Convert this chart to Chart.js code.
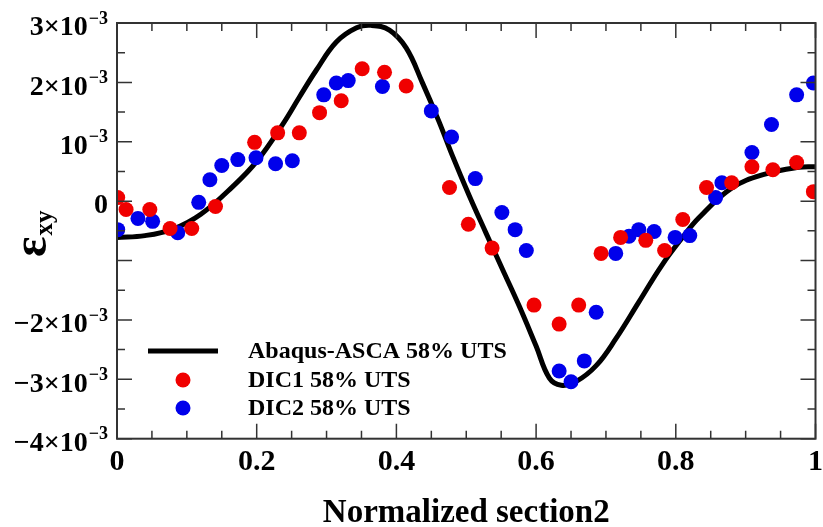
<!DOCTYPE html>
<html>
<head>
<meta charset="utf-8">
<script src="https://cdn.jsdelivr.net/npm/chart.js@4.4.0/dist/chart.umd.min.js"></script>
<style>
html, body { margin: 0; padding: 0; background: #fff; }
#wrap { width: 823px; height: 527px; }
</style>
</head>
<body>
<div id="wrap"><canvas id="chart"></canvas></div>
<script>
// strain values are in units of 1e-3 (axis labels carry the x10^-3)
const femX = [0, 0.04, 0.08, 0.12, 0.166, 0.2, 0.237, 0.261, 0.285, 0.314, 0.343, 0.364, 0.39, 0.414, 0.437, 0.461, 0.48, 0.504, 0.528, 0.552, 0.576, 0.6, 0.619, 0.636, 0.657, 0.686, 0.714, 0.747, 0.78, 0.809, 0.833, 0.88, 0.929, 0.976, 1];
const femY = [-0.61, -0.58, -0.47, -0.22, 0.25, 0.67, 1.29, 1.75, 2.2, 2.68, 2.92, 2.96, 2.88, 2.58, 2.0, 1.34, 0.77, 0.1, -0.53, -1.15, -1.77, -2.44, -2.98, -3.1, -3.04, -2.77, -2.32, -1.7, -1.08, -0.62, -0.28, 0.22, 0.46, 0.57, 0.58];

const dic1X = [0.001, 0.013, 0.047, 0.076, 0.107, 0.141, 0.197, 0.23, 0.261, 0.29, 0.321, 0.351, 0.383, 0.414, 0.476, 0.503, 0.537, 0.597, 0.633, 0.661, 0.693, 0.721, 0.757, 0.784, 0.81, 0.844, 0.88, 0.909, 0.939, 0.973, 0.997];
const dic1Y = [0.06, -0.14, -0.14, -0.46, -0.46, -0.09, 0.99, 1.15, 1.15, 1.49, 1.69, 2.23, 2.17, 1.94, 0.23, -0.39, -0.79, -1.75, -2.07, -1.75, -0.88, -0.61, -0.66, -0.83, -0.31, 0.23, 0.31, 0.58, 0.53, 0.65, 0.16];

const dic2X = [0.001, 0.03, 0.051, 0.087, 0.117, 0.133, 0.15, 0.173, 0.199, 0.227, 0.251, 0.296, 0.314, 0.331, 0.38, 0.45, 0.479, 0.513, 0.551, 0.57, 0.586, 0.633, 0.65, 0.669, 0.686, 0.714, 0.733, 0.747, 0.769, 0.799, 0.82, 0.857, 0.866, 0.909, 0.937, 0.973, 0.997];
const dic2Y = [-0.48, -0.29, -0.34, -0.53, -0.02, 0.36, 0.6, 0.7, 0.73, 0.63, 0.68, 1.79, 1.99, 2.03, 1.93, 1.52, 1.08, 0.38, -0.19, -0.48, -0.83, -2.86, -3.04, -2.69, -1.87, -0.88, -0.59, -0.48, -0.51, -0.61, -0.58, 0.06, 0.31, 0.82, 1.29, 1.79, 1.99];

const seriesNames = ['Abaqus-ASCA 58% UTS', 'DIC1 58% UTS', 'DIC2 58% UTS'];
const seriesColors = ['#000000', 'rgb(240,0,0)', 'rgb(0,0,235)'];

const yTickValues = [3, 2, 1, 0, -1, -2, -3, -4];
const yTickBase = ['3×10', '2×10', '10', '0', '', '−2×10', '−3×10', '−4×10'];
const yTickExp = ['−3', '−3', '−3', '', '', '−3', '−3', '−3'];
const xTitle = 'Normalized section2';

const serif = '"Liberation Serif", "Times New Roman", serif';
Chart.defaults.font.family = serif;
Chart.defaults.color = '#000';

function toPoints(xs, ys) {
    return xs.map((x, i) => ({ x: x, y: ys[i] }));
}

// frame, inside ticks, y labels, y title and legend
const decorations = {
    id: 'decorations',
    afterDraw: function(chart) {
        const ctx = chart.ctx;
        const area = chart.chartArea;
        const xs = chart.scales.x;
        const ys = chart.scales.y;
        ctx.save();

        // ticks
        ctx.strokeStyle = '#333';
        ctx.lineWidth = 1.5;
        ctx.beginPath();
        for (let i = 0; i <= 20; i++) {
            const v = i * 0.05;
            const px = xs.getPixelForValue(v);
            const len = (i % 4 === 0) ? 15 : 8;
            ctx.moveTo(px, area.bottom); ctx.lineTo(px, area.bottom - len);
            ctx.moveTo(px, area.top); ctx.lineTo(px, area.top + len);
        }
        for (let i = 0; i <= 14; i++) {
            const v = -4 + i * 0.5;
            const py = ys.getPixelForValue(v);
            const len = (i % 2 === 0) ? 15 : 8;
            ctx.moveTo(area.left, py); ctx.lineTo(area.left + len, py);
            ctx.moveTo(area.right, py); ctx.lineTo(area.right - len, py);
        }
        ctx.stroke();

        // frame
        ctx.lineWidth = 2;
        ctx.strokeRect(area.left, area.top, area.right - area.left, area.bottom - area.top);

        // y tick labels with superscripts
        ctx.fillStyle = '#000';
        ctx.textBaseline = 'middle';
        ctx.textAlign = 'right';
        const labelRight = area.left - 9;
        yTickValues.forEach((v, i) => {
            const py = ys.getPixelForValue(v) + 5;
            let right = labelRight;
            if (yTickExp[i]) {
                ctx.font = 'bold 18px ' + serif;
                ctx.fillText(yTickExp[i], right, py - 9);
                right -= ctx.measureText(yTickExp[i]).width + 1;
            }
            ctx.font = 'bold 28px ' + serif;
            ctx.fillText(yTickBase[i], right, py);
        });

        // y title: epsilon with subscript xy, rotated
        ctx.save();
        ctx.translate(46, 257);
        ctx.rotate(-Math.PI / 2);
        ctx.textAlign = 'left';
        ctx.textBaseline = 'alphabetic';
        ctx.font = 'bold 48px ' + serif;
        ctx.fillText('ε', 0, 0);
        const ew = ctx.measureText('ε').width;
        ctx.font = 'bold 25px ' + serif;
        ctx.fillText('xy', ew + 1, 6);
        ctx.restore();

        // legend
        const lx = area.left + 31;
        const rows = [area.top + 328, area.top + 357, area.top + 385];
        ctx.textAlign = 'left';
        ctx.textBaseline = 'middle';
        ctx.font = 'bold 24px ' + serif;
        chart.data.datasets.forEach((ds, i) => {
            const y = rows[i];
            if (ds.showLine) {
                ctx.strokeStyle = ds.borderColor;
                ctx.lineWidth = ds.borderWidth;
                ctx.beginPath();
                ctx.moveTo(lx, y);
                ctx.lineTo(lx + 70, y);
                ctx.stroke();
            } else {
                ctx.fillStyle = ds.backgroundColor;
                ctx.beginPath();
                ctx.arc(lx + 35, y, ds.pointRadius, 0, Math.PI * 2);
                ctx.fill();
            }
            ctx.fillStyle = '#000';
            ctx.fillText(ds.label, lx + 100, y + 1);
        });
        ctx.restore();
    }
};

new Chart(document.getElementById('chart'), {
    type: 'scatter',
    data: {
        datasets: [{
            label: seriesNames[0],
            data: toPoints(femX, femY),
            showLine: true,
            borderColor: seriesColors[0],
            borderWidth: 5,
            pointRadius: 0,
            tension: 0.4,
            order: 3
        }, {
            label: seriesNames[1],
            data: toPoints(dic1X, dic1Y),
            backgroundColor: seriesColors[1],
            borderWidth: 0,
            pointRadius: 7.5,
            order: 1
        }, {
            label: seriesNames[2],
            data: toPoints(dic2X, dic2Y),
            backgroundColor: seriesColors[2],
            borderWidth: 0,
            pointRadius: 7.5,
            order: 2
        }]
    },
    options: {
        responsive: true,
        maintainAspectRatio: false,
        animation: false,
        layout: {
            padding: { left: 117, right: 6, top: 23, bottom: -5 }
        },
        plugins: {
            legend: { display: false },
            tooltip: { enabled: false }
        },
        scales: {
            x: {
                type: 'linear',
                min: 0,
                max: 1,
                grid: { display: false, drawTicks: false },
                border: { display: false },
                afterFit: function(scale) {
                    scale.paddingLeft = 0;
                    scale.paddingRight = 0;
                },
                ticks: {
                    stepSize: 0.2,
                    maxRotation: 0,
                    padding: 6,
                    color: '#000',
                    font: { size: 30, weight: 'bold' },
                    callback: v => String(Number(v.toFixed(1)))
                },
                title: {
                    display: true,
                    text: xTitle,
                    color: '#000',
                    font: { size: 33, weight: 'bold', lineHeight: 1.1 },
                    padding: { top: 9, bottom: 0 }
                }
            },
            y: {
                type: 'linear',
                min: -4,
                max: 3,
                grid: { display: false, drawTicks: false },
                border: { display: false },
                ticks: { display: false, stepSize: 1 }
            }
        }
    },
    plugins: [decorations]
});
</script>
</body>
</html>
